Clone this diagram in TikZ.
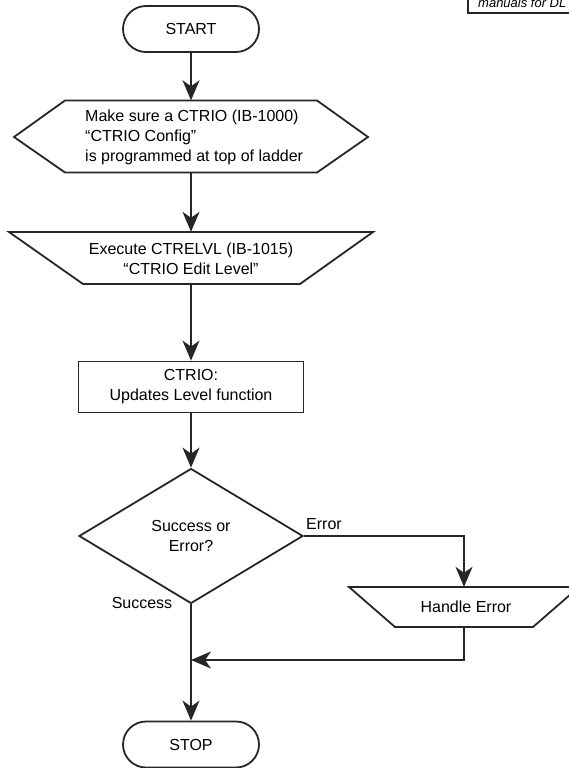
\documentclass[tikz,border=0pt]{standalone}
\usepackage{fontspec}
\setmainfont{Liberation Sans}
\usetikzlibrary{shapes.geometric,shapes.misc,arrows.meta,calc}
\tikzset{
  every node/.style={font=\fontsize{16}{20}\selectfont},
  outline/.style={line width=1.8pt, draw=black!85},
  term/.style={outline, rounded rectangle, minimum width=136pt, minimum height=46pt, inner sep=0pt},
  procbox/.style={outline, rectangle, minimum width=225pt, minimum height=51pt, inner sep=0pt, align=center},
  decision/.style={outline, diamond, minimum width=224pt, minimum height=135pt, aspect=1.66, inner sep=0pt, align=center},
  anchorbox/.style={draw=none, inner sep=0pt},
  arr/.style={line width=1.8pt, draw=black!85, -{Stealth[length=20pt,width=17pt,inset=6pt]}},
  lbl/.style={inner sep=0pt}
}
\begin{document}
\begin{tikzpicture}[x=1pt,y=-1pt]
\useasboundingbox (0,0) rectangle (569,768);
\clip (0,0) rectangle (569,768);

% top-right note box (cut off)
\draw[outline] (468,-6) rectangle (620,13);
\node[anchor=base west, inner sep=0pt, font=\fontsize{13}{15}\selectfont\itshape] (note) at (478,8) {manuals for DL};

% START
\node[term] (start) at (191,29) {START};

% hexagon
\node[anchorbox, minimum width=354pt, minimum height=72pt] (hex) at (191,136.5) {};
\draw[outline] (14,137) -- (65,100.5) -- (317,100.5) -- (368,137) -- (317,172.5) -- (65,172.5) -- cycle;
\node[anchor=west, align=left, inner sep=0pt] (hextext) at (85,137) {Make sure a CTRIO (IB-1000)\\``CTRIO Config''\\is programmed at top of ladder};

% trapezoid (execute)
\node[anchorbox, minimum width=363pt, minimum height=52pt] (exec) at (191,258) {};
\draw[outline] (9,232) -- (373,232) -- (300,284) -- (83,284) -- cycle;
\node[align=center, inner sep=0pt] (exectext) at (191,258.5) {Execute CTRELVL (IB-1015)\\``CTRIO Edit Level''};

% process box
\node[procbox] (proc) at (191,387) {CTRIO:\\Updates Level function};

% decision
\node[decision] (dec) at (191,536) {Success or\\Error?};

% Handle Error trapezoid
\node[anchorbox, minimum width=228pt, minimum height=40pt] (herr) at (464,607) {};
\draw[outline] (349,587) -- (579,587) -- (533,627) -- (395,627) -- cycle;
\node[inner sep=0pt] (herrtext) at (466,607) {Handle Error};

% STOP
\node[term] (stop) at (191,744.5) {STOP};

% junction
\coordinate (join) at (191,660);

% connectors
\draw[arr] (start.south) -- (hex.north);
\draw[arr] (hex.south) -- (exec.north);
\draw[arr] (exec.south) -- (proc.north);
\draw[arr] (proc.south) -- (dec.north);
\draw[arr] (dec.east) -| (herr.north);
\draw[arr] (herr.south) |- (join);
\draw[arr] (dec.south) -- (stop.north);

% labels
\node[lbl] (errlbl) at (324,524) {Error};
\node[lbl] (suclbl) at (142,603) {Success};
\end{tikzpicture}
\end{document}
